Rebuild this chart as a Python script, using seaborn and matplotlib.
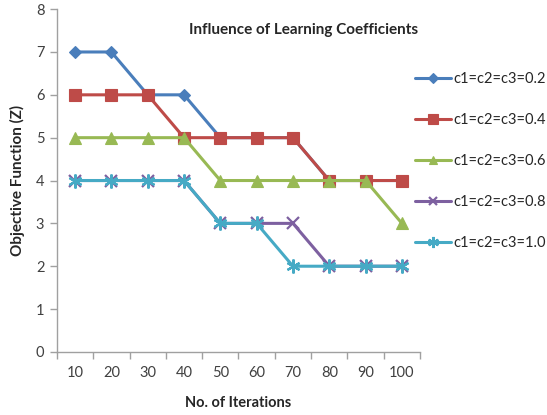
import numpy as np
import pandas as pd
import matplotlib
matplotlib.use("Agg")
import matplotlib.pyplot as plt
import seaborn as sns

iterations = ["10", "20", "30", "40", "50", "60", "70", "80", "90", "100"]
c02 = [7, 7, 6, 6, 5, 5, 5, 4, 4, 4]
c04 = [6, 6, 6, 5, 5, 5, 5, 4, 4, 4]
c06 = [5, 5, 5, 5, 4, 4, 4, 4, 4, 3]
c08 = [4, 4, 4, 4, 3, 3, 3, 2, 2, 2]
c10 = [4, 4, 4, 4, 3, 3, 2, 2, 2, 2]
labels = ["c1=c2=c3=0.2", "c1=c2=c3=0.4", "c1=c2=c3=0.6", "c1=c2=c3=0.8", "c1=c2=c3=1.0"]

sns.set_style("white")
plt.rcParams['font.family'] = ['Lato', 'DejaVu Sans']

fig = plt.figure(figsize=(5.47, 4.15), dpi=100)
ax = fig.add_axes([0.104, 0.152, 0.664, 0.826])

colors = ["#4A7EBB", "#BE4B48", "#98B954", "#7D60A0", "#46AAC5"]
markers = ["D", "s", "^", "x", (6, 2, 0)]
msizes = [6, 9, 8, 8, 10]
pos = np.arange(len(iterations))
handles = []
for vals, lab, col, mk, ms in zip([c02, c04, c06, c08, c10], labels, colors, markers, msizes):
    sns.lineplot(x=pos, y=vals, ax=ax, color=col, marker=mk, markersize=ms,
                 linewidth=2.2, markeredgecolor=col,
                 markeredgewidth=1.6 if (mk == "x" or isinstance(mk, tuple)) else 0.8,
                 label=lab, legend=False)
    handles.append(ax.lines[-1])

ax.set_xlim(-0.5, len(iterations) - 0.5)
ax.set_ylim(0, 8)
ax.set_xticks(pos)
ax.set_xticklabels(iterations)
ax.set_xticks(np.arange(len(iterations) + 1) - 0.5, minor=True)
ax.tick_params(axis='x', which='major', length=0, pad=10, labelsize=10.5, colors='#404040')
ax.tick_params(axis='x', which='minor', length=5, width=1, color='#A0A0A0', direction='out')
ax.tick_params(axis='y', length=5, width=1, color='#A0A0A0', direction='out', labelsize=10.5, labelcolor='#404040', pad=4)
ax.xaxis.set_tick_params(bottom=True, which='both')
ax.yaxis.set_tick_params(left=True)
for s in ['top', 'right']:
    ax.spines[s].set_visible(False)
for s in ['left', 'bottom']:
    ax.spines[s].set_color('#A0A0A0')
    ax.spines[s].set_linewidth(1)

ax.set_xlabel("No. of Iterations", fontsize=10.5, fontweight='bold', labelpad=12)
ax.set_ylabel("Objective Function (Z)", fontsize=11, fontweight='bold', labelpad=8)
ax.text(0.68, 0.94, "Influence of Learning Coefficients", transform=ax.transAxes,
        ha='center', va='center', fontsize=11, fontweight='bold')

leg = fig.legend(handles=handles, labels=labels, loc='upper left', bbox_to_anchor=(0.758, 0.826),
                 frameon=False, fontsize=10.5, labelspacing=1.85, handlelength=2.5, handletextpad=0.15,
                 borderpad=0, borderaxespad=0, markerscale=0.8)

fig.savefig("out.png", dpi=100)
